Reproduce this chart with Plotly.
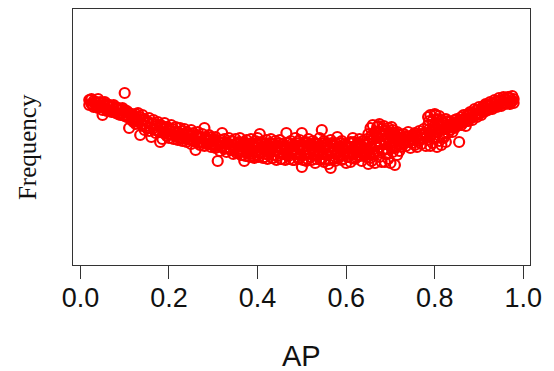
import plotly.graph_objects as go

# ---------------- data ----------------
# outer points of the band
ap = [
    0.020, 0.020, 0.025, 0.025, 0.030, 0.030, 0.035, 0.035, 0.040, 0.040,
    0.045, 0.045, 0.050, 0.050, 0.050, 0.055, 0.055, 0.060, 0.060, 0.065,
    0.065, 0.070, 0.070, 0.075, 0.075, 0.080, 0.080, 0.085, 0.085, 0.090,
    0.090, 0.095, 0.095, 0.100, 0.100, 0.100, 0.105, 0.105, 0.110, 0.110,
    0.115, 0.115, 0.120, 0.120,
    0.125, 0.125, 0.130, 0.130, 0.135, 0.135, 0.140, 0.140, 0.145, 0.145,
    0.150, 0.150, 0.155, 0.155, 0.160, 0.160, 0.165, 0.165, 0.170, 0.170,
    0.175, 0.175, 0.180, 0.180, 0.185, 0.185, 0.190, 0.190, 0.195, 0.195,
    0.200, 0.200, 0.205, 0.205, 0.210, 0.210, 0.215, 0.215, 0.220, 0.220,
    0.225, 0.225, 0.230, 0.230, 0.235, 0.235, 0.240, 0.240, 0.245, 0.245,
    0.250, 0.250, 0.255, 0.255, 0.260, 0.260, 0.265, 0.265, 0.270, 0.270,
    0.275, 0.275, 0.280, 0.280, 0.285, 0.285, 0.290, 0.290, 0.295, 0.295,
    0.300, 0.300,
    0.305, 0.305, 0.310, 0.310, 0.315, 0.315, 0.320, 0.320, 0.325, 0.325,
    0.330, 0.330, 0.335, 0.335, 0.340, 0.340, 0.345, 0.345, 0.350, 0.350,
    0.355, 0.355, 0.360, 0.360, 0.365, 0.365, 0.370, 0.370, 0.370, 0.375,
    0.375, 0.380, 0.380, 0.385, 0.385, 0.390, 0.390, 0.395, 0.395, 0.400,
    0.400, 0.400, 0.405, 0.405, 0.410, 0.410, 0.415, 0.415, 0.420, 0.420,
    0.425, 0.425, 0.430, 0.430, 0.435, 0.435, 0.440, 0.440, 0.445, 0.445,
    0.450, 0.450, 0.450, 0.455, 0.455, 0.460, 0.460, 0.465, 0.465, 0.470,
    0.470, 0.475, 0.475, 0.480, 0.480, 0.485, 0.485, 0.490, 0.490, 0.495,
    0.495, 0.500, 0.500, 0.500, 0.505, 0.505, 0.510, 0.510, 0.515, 0.515,
    0.520, 0.520, 0.525, 0.525, 0.530, 0.530, 0.535, 0.535, 0.540, 0.540,
    0.545, 0.545, 0.550, 0.550, 0.550, 0.555, 0.555, 0.560, 0.560, 0.565,
    0.565, 0.565, 0.570, 0.570, 0.575, 0.575, 0.580, 0.580, 0.585, 0.585,
    0.590, 0.590, 0.595, 0.595, 0.600, 0.600,
    0.605, 0.605, 0.610, 0.610, 0.615, 0.615, 0.620, 0.620, 0.625, 0.625,
    0.630, 0.630, 0.635, 0.635, 0.640, 0.640, 0.645, 0.645, 0.650, 0.650,
    0.650, 0.655, 0.655, 0.655, 0.660, 0.660, 0.660, 0.665, 0.665, 0.665,
    0.670, 0.670, 0.670, 0.675, 0.675, 0.675, 0.680, 0.680, 0.680, 0.685,
    0.685, 0.685, 0.690, 0.690, 0.690, 0.695, 0.695, 0.695, 0.700, 0.700,
    0.700, 0.705, 0.705, 0.705, 0.710, 0.710, 0.710, 0.715, 0.715, 0.715,
    0.720, 0.720, 0.720,
    0.725, 0.725, 0.730, 0.730, 0.735, 0.735, 0.740, 0.740, 0.745, 0.745,
    0.750, 0.750, 0.755, 0.755, 0.760, 0.760, 0.765, 0.765, 0.770, 0.770,
    0.775, 0.775, 0.780, 0.780,
    0.785, 0.785, 0.785, 0.790, 0.790, 0.790, 0.795, 0.795, 0.795, 0.800,
    0.800, 0.800, 0.805, 0.805, 0.805, 0.810, 0.810, 0.810, 0.815, 0.815,
    0.815, 0.820, 0.820, 0.820, 0.825, 0.825, 0.825, 0.830, 0.830, 0.830,
    0.835, 0.835, 0.840, 0.840, 0.845, 0.845, 0.850, 0.850, 0.855, 0.855,
    0.860, 0.860, 0.865, 0.865, 0.870, 0.870, 0.875, 0.875, 0.880, 0.880,
    0.885, 0.885, 0.890, 0.890, 0.895, 0.895, 0.900, 0.900, 0.905, 0.905,
    0.910, 0.910, 0.915, 0.915, 0.920, 0.920, 0.925, 0.925, 0.930, 0.930,
    0.935, 0.935, 0.940, 0.940, 0.945, 0.945, 0.950, 0.950, 0.955, 0.955,
    0.960, 0.960, 0.965, 0.965, 0.970, 0.970, 0.975, 0.975, 0.978, 0.978,
]

frequency = [
    165, 160, 161, 166, 158, 164, 163, 159, 166, 157,
    158, 163, 162, 155, 150, 157, 163, 161, 154, 155,
    160, 159, 153, 154, 160, 158, 152, 151, 157, 156,
    150, 152, 157, 155, 149, 172, 148, 154, 152, 137,
    145, 151, 150, 143,
    151, 141, 144, 152, 148, 130, 139, 150, 146, 135,
    144, 137, 134, 147, 142, 128, 137, 145, 132, 141,
    143, 134, 123, 140, 139, 126, 133, 142, 129, 138,
    137, 127, 131, 140, 126, 136, 138, 129, 133, 125,
    127, 137, 134, 124, 128, 136, 123, 133, 131, 126,
    135, 121, 124, 132, 130, 115, 122, 133, 128, 120,
    131, 123, 119, 137, 127, 121, 124, 130, 118, 128,
    126, 121,
    128, 117, 121, 104, 125, 114, 132, 119, 116, 126,
    122, 113, 127, 118, 115, 124, 120, 111, 126, 117,
    113, 122, 119, 127, 110, 116, 123, 104, 118, 114,
    125, 120, 111, 116, 126, 109, 121, 124, 114, 118,
    110, 127, 131, 115, 112, 122, 119, 108, 125, 115,
    110, 120, 117, 126, 107, 121, 114, 124, 119, 109,
    112, 125, 117, 106, 121, 118, 111, 132, 115, 109,
    122, 124, 113, 116, 105, 120, 127, 111, 118, 125,
    107, 132, 98, 116, 119, 110, 123, 104, 113, 126,
    108, 120, 117, 124, 102, 114, 121, 109, 127, 113,
    135, 106, 118, 103, 124, 110, 121, 115, 101, 97,
    125, 112, 107, 119, 122, 104, 113, 128, 109, 118,
    124, 105, 116, 111, 102, 120,
    118, 108, 123, 103, 112, 127, 106, 119, 121, 114,
    110, 126, 117, 104, 124, 112, 108, 120, 131, 114,
    101, 137, 118, 107, 125, 140, 110, 102, 133, 119,
    138, 114, 127, 141, 108, 122, 130, 103, 136, 116,
    139, 125, 134, 111, 121, 106, 128, 137, 119, 131,
    102, 135, 124, 113, 100, 129, 117, 126, 133, 110,
    121, 130, 114,
    127, 118, 131, 121, 119, 129, 133, 123, 126, 117,
    130, 122, 120, 132, 128, 118, 134, 124, 121, 130,
    127, 136, 119, 132,
    140, 125, 148, 130, 150, 119, 144, 122, 136, 151,
    128, 139, 118, 146, 133, 141, 124, 149, 135, 120,
    145, 127, 142, 131, 146, 136, 123, 138, 132, 144,
    135, 143, 140, 133, 145, 137, 139, 146, 123, 142,
    148, 140, 143, 150, 146, 139, 151, 144, 147, 153,
    152, 145, 149, 156, 155, 148, 151, 158, 156, 150,
    159, 153, 154, 161, 160, 155, 157, 163, 162, 156,
    159, 165, 163, 158, 161, 167, 165, 159, 162, 168,
    166, 161, 163, 168, 167, 161, 164, 169, 166, 162,
]

# inner points of the band (left part)
ap_inner_left = [
    0.0225, 0.0275, 0.0325, 0.0375, 0.0425, 0.0475, 0.0525, 0.0575, 0.0625, 0.0675,
    0.0725, 0.0775, 0.0825, 0.0875, 0.0925, 0.0975, 0.1025, 0.1075, 0.1125, 0.1175,
    0.1225, 0.1275, 0.1325, 0.1375, 0.1425, 0.1475, 0.1525, 0.1575, 0.1625, 0.1675,
    0.1725, 0.1775, 0.1825, 0.1875, 0.1925, 0.1975, 0.2025, 0.2075, 0.2125, 0.2175,
    0.2225, 0.2275, 0.2325, 0.2375, 0.2425, 0.2475, 0.2525, 0.2575, 0.2625, 0.2675,
    0.2725, 0.2775, 0.2825, 0.2875, 0.2925, 0.2975, 0.3025, 0.3075, 0.3125, 0.3175,
    0.3225, 0.3275, 0.3325, 0.3375, 0.3425, 0.3475,
]
frequency_inner_left = [
    165, 160, 163, 159, 162, 158, 160, 156, 159, 154,
    158, 153, 156, 151, 155, 150, 153, 148, 150, 145,
    148, 144, 146, 141, 145, 139, 142, 137, 141, 135,
    139, 134, 137, 132, 136, 131, 134, 130, 133, 128,
    132, 127, 131, 126, 130, 125, 129, 124, 128, 123,
    127, 122, 126, 121, 125, 120, 124, 119, 123, 118,
    122, 117, 121, 116, 120, 116,
]

# inner points of the band (middle part, two per position)
ap_inner_mid = [
    0.3525, 0.3525, 0.3575, 0.3575, 0.3625, 0.3625, 0.3675, 0.3675, 0.3725, 0.3725,
    0.3775, 0.3775, 0.3825, 0.3825, 0.3875, 0.3875, 0.3925, 0.3925, 0.3975, 0.3975,
    0.4025, 0.4025, 0.4075, 0.4075, 0.4125, 0.4125, 0.4175, 0.4175, 0.4225, 0.4225,
    0.4275, 0.4275, 0.4325, 0.4325, 0.4375, 0.4375, 0.4425, 0.4425, 0.4475, 0.4475,
    0.4525, 0.4525, 0.4575, 0.4575, 0.4625, 0.4625, 0.4675, 0.4675, 0.4725, 0.4725,
    0.4775, 0.4775, 0.4825, 0.4825, 0.4875, 0.4875, 0.4925, 0.4925, 0.4975, 0.4975,
    0.5025, 0.5025, 0.5075, 0.5075, 0.5125, 0.5125, 0.5175, 0.5175, 0.5225, 0.5225,
    0.5275, 0.5275, 0.5325, 0.5325, 0.5375, 0.5375, 0.5425, 0.5425, 0.5475, 0.5475,
    0.5525, 0.5525, 0.5575, 0.5575, 0.5625, 0.5625, 0.5675, 0.5675, 0.5725, 0.5725,
    0.5775, 0.5775, 0.5825, 0.5825, 0.5875, 0.5875, 0.5925, 0.5925, 0.5975, 0.5975,
    0.6025, 0.6025, 0.6075, 0.6075, 0.6125, 0.6125, 0.6175, 0.6175, 0.6225, 0.6225,
    0.6275, 0.6275, 0.6325, 0.6325, 0.6375, 0.6375, 0.6425, 0.6425, 0.6475, 0.6475,
    0.6525, 0.6525, 0.6575, 0.6575, 0.6625, 0.6625, 0.6675, 0.6675, 0.6725, 0.6725,
    0.6775, 0.6775, 0.6825, 0.6825, 0.6875, 0.6875, 0.6925, 0.6925, 0.6975, 0.6975,
    0.7025, 0.7025, 0.7075, 0.7075, 0.7125, 0.7125, 0.7175, 0.7175, 0.7225, 0.7225,
]
frequency_inner_mid = [
    121, 112, 114, 123, 120, 110, 113, 122, 119, 109,
    112, 121, 118, 108, 111, 122, 119, 107, 113, 121,
    120, 108, 112, 123, 118, 107, 111, 121, 119, 106,
    113, 122, 117, 107, 110, 121, 118, 105, 112, 122,
    119, 106, 111, 121, 117, 105, 110, 122, 118, 106,
    112, 121, 119, 105, 111, 122, 117, 106, 110, 120,
    118, 105, 112, 122, 119, 106, 111, 121, 117, 105,
    110, 122, 118, 106, 112, 121, 119, 105, 111, 122,
    117, 106, 110, 121, 118, 105, 112, 122, 119, 106,
    111, 121, 117, 107, 110, 122, 118, 106, 112, 121,
    119, 108, 112, 122, 118, 107, 111, 123, 119, 108,
    113, 122, 120, 109, 114, 124, 121, 110, 116, 126,
    124, 111, 117, 130, 127, 113, 120, 132, 128, 114,
    121, 133, 129, 115, 122, 134, 128, 116, 123, 133,
    129, 117, 122, 132, 128, 118, 123, 131, 127, 120,
]

# inner points of the band (right part)
ap_inner_right = [
    0.7275, 0.7325, 0.7375, 0.7425, 0.7475, 0.7525, 0.7575, 0.7625, 0.7675, 0.7725,
    0.7775, 0.7825, 0.7875, 0.7925, 0.7975, 0.8025, 0.8075, 0.8125, 0.8175, 0.8225,
    0.8275, 0.8325, 0.8375, 0.8425, 0.8475, 0.8525, 0.8575, 0.8625, 0.8675, 0.8725,
    0.8775, 0.8825, 0.8875, 0.8925, 0.8975, 0.9025, 0.9075, 0.9125, 0.9175, 0.9225,
    0.9275, 0.9325, 0.9375, 0.9425, 0.9475, 0.9525, 0.9575, 0.9625, 0.9675, 0.9725,
    0.7875, 0.7975, 0.8075, 0.8175, 0.8025, 0.6575, 0.6725, 0.6875, 0.7025,
]
frequency_inner_right = [
    127, 124, 128, 125, 129, 125, 130, 126, 131, 127,
    132, 130, 136, 133, 138, 135, 139, 135, 140, 136,
    140, 137, 141, 138, 143, 140, 145, 142, 147, 144,
    150, 147, 152, 150, 155, 152, 157, 154, 159, 156,
    161, 158, 163, 160, 164, 161, 166, 162, 167, 163,
    144, 127, 145, 128, 150, 104, 139, 103, 138,
]

x_ticks = [0.0, 0.2, 0.4, 0.6, 0.8, 1.0]
x_tick_labels = ["0.0", "0.2", "0.4", "0.6", "0.8", "1.0"]

# ---------------- figure ----------------
all_ap = ap + ap_inner_left + ap_inner_mid + ap_inner_right
all_freq = frequency + frequency_inner_left + frequency_inner_mid + frequency_inner_right

fig = go.Figure()
fig.add_trace(go.Scatter(
    x=all_ap, y=all_freq, mode="markers",
    marker=dict(symbol="circle-open", size=10, color="#ff0000",
                line=dict(width=2.2, color="#ff0000")),
    showlegend=False, hoverinfo="skip",
))

# the page body has an 8px default margin: the figure is shrunk by 8px so
# that its plot area lands where the reference has it
OFF = 8
W, H = 554 - OFF, 371 - OFF
L, R, T, B = 73 - OFF, 24, 9 - OFF, 106

fig.update_layout(
    width=W, height=H,
    margin=dict(l=L, r=R, t=T, b=B, pad=0, autoexpand=False),
    paper_bgcolor="white", plot_bgcolor="white",
    font=dict(family="Liberation Sans, Arial, sans-serif", color="black"),
    xaxis=dict(
        range=[-0.0167, 1.015], tickvals=x_ticks, ticktext=x_tick_labels,
        ticks="outside", ticklen=13, tickwidth=1.2, tickcolor="#333",
        tickfont=dict(size=27, color="#111"),
        ticklabelstandoff=-5,
        automargin=False,
        showline=True, linecolor="#333", linewidth=1.3, mirror=True,
        showgrid=False, zeroline=False,
    ),
    yaxis=dict(
        range=[0, 256], showticklabels=False, ticks="",
        automargin=False,
        showline=True, linecolor="#333", linewidth=1.3, mirror=True,
        showgrid=False, zeroline=False,
    ),
    annotations=[
        dict(text="AP", xref="paper", yref="paper", x=0.5, y=-0.356,
             xanchor="center", yanchor="middle", showarrow=False,
             font=dict(size=29, color="#111",
                       family="Liberation Sans, Arial, sans-serif")),
        dict(text="Frequency", xref="paper", yref="paper", x=-0.101, y=0.46,
             xanchor="center", yanchor="middle", showarrow=False,
             textangle=-90,
             font=dict(size=25, color="#111",
                       family="Liberation Serif, Times New Roman, serif")),
    ],
)

fig.write_html("out.html")
